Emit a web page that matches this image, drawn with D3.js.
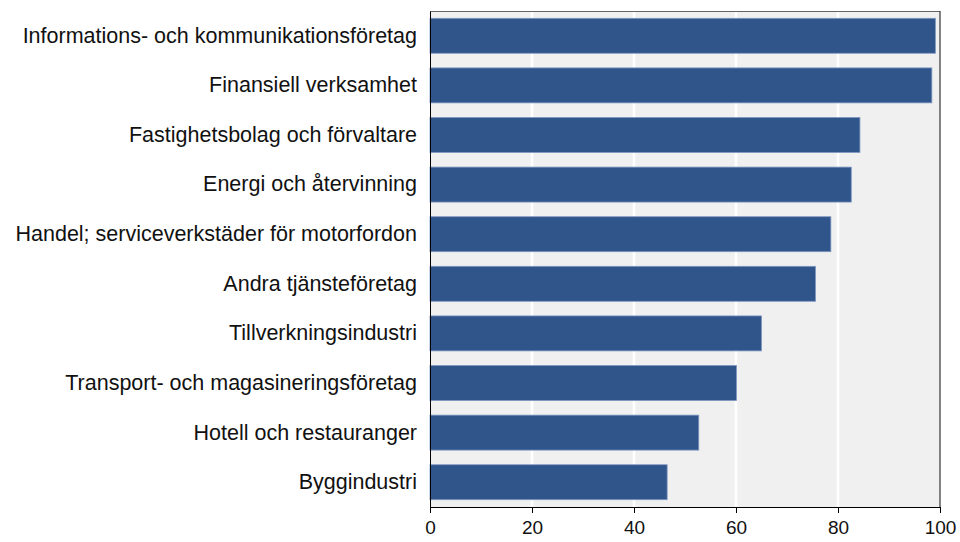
<!DOCTYPE html>
<html>
<head>
<meta charset="utf-8">
<script src="https://cdn.jsdelivr.net/npm/d3@7"></script>
<style>
  body { margin: 0; background: #fff; }
  text { font-family: "Liberation Sans", Arial, sans-serif; fill: #111; }
</style>
</head>
<body>
<div id="chart"></div>
<script>
const categories = [
  "Informations- och kommunikationsföretag",
  "Finansiell verksamhet",
  "Fastighetsbolag och förvaltare",
  "Energi och återvinning",
  "Handel; serviceverkstäder för motorfordon",
  "Andra tjänsteföretag",
  "Tillverkningsindustri",
  "Transport- och magasineringsföretag",
  "Hotell och restauranger",
  "Byggindustri"
];
const values = [99.1, 98.4, 84.3, 82.6, 78.6, 75.6, 65.0, 60.1, 52.7, 46.5];
const xTicks = [0, 20, 40, 60, 80, 100];

const width = 960, height = 542;
const margin = { top: 11, right: 20, bottom: 35, left: 430 };
const innerW = width - margin.left - margin.right;
const innerH = height - margin.top - margin.bottom;

const svg = d3.select("#chart").append("svg")
  .attr("width", width).attr("height", height);
const g = svg.append("g").attr("transform", `translate(${margin.left},${margin.top})`);

const x = d3.scaleLinear().domain([0, 100]).range([0, innerW]);
const y = d3.scaleBand().domain(categories).range([0, innerH]).paddingInner(0.295).paddingOuter(0.147);

/* panel */
g.append("rect").attr("width", innerW).attr("height", innerH).attr("fill", "#f0f0f0");

/* grid */
g.selectAll(".grid").data(xTicks.slice(1, -1)).enter().append("line")
  .attr("x1", d => x(d)).attr("x2", d => x(d))
  .attr("y1", 0).attr("y2", innerH)
  .attr("stroke", "#fff").attr("stroke-width", 2.5);

/* bars */
g.selectAll(".bar").data(values).enter().append("rect")
  .attr("x", x(0))
  .attr("y", (d, i) => y(categories[i]))
  .attr("width", d => x(d))
  .attr("height", y.bandwidth())
  .attr("fill", "#30558b")
  .attr("stroke", "#7f98c0").attr("stroke-width", 0.8);

/* borders */
g.append("line").attr("x1", 0).attr("x2", innerW).attr("y1", 0.5).attr("y2", 0.5)
  .attr("stroke", "#666").attr("stroke-width", 1);
g.append("line").attr("x1", innerW).attr("x2", innerW).attr("y1", 0).attr("y2", innerH)
  .attr("stroke", "#333").attr("stroke-width", 1.2);

/* y axis */
const yAxis = g.append("g").call(d3.axisLeft(y).tickSize(0).tickPadding(13));
yAxis.select(".domain").attr("stroke", "#000");
yAxis.selectAll("text").style("font-size", "21.5px").attr("fill", "#111");

/* x axis */
const xAxis = g.append("g").attr("transform", `translate(0,${innerH})`)
  .call(d3.axisBottom(x).tickValues(xTicks).tickSize(6).tickPadding(8).tickSizeOuter(0));
xAxis.select(".domain").attr("stroke", "#000");
xAxis.selectAll("line").attr("stroke", "#000");
xAxis.selectAll("text").style("font-size", "19px").attr("fill", "#111");
</script>
</body>
</html>
